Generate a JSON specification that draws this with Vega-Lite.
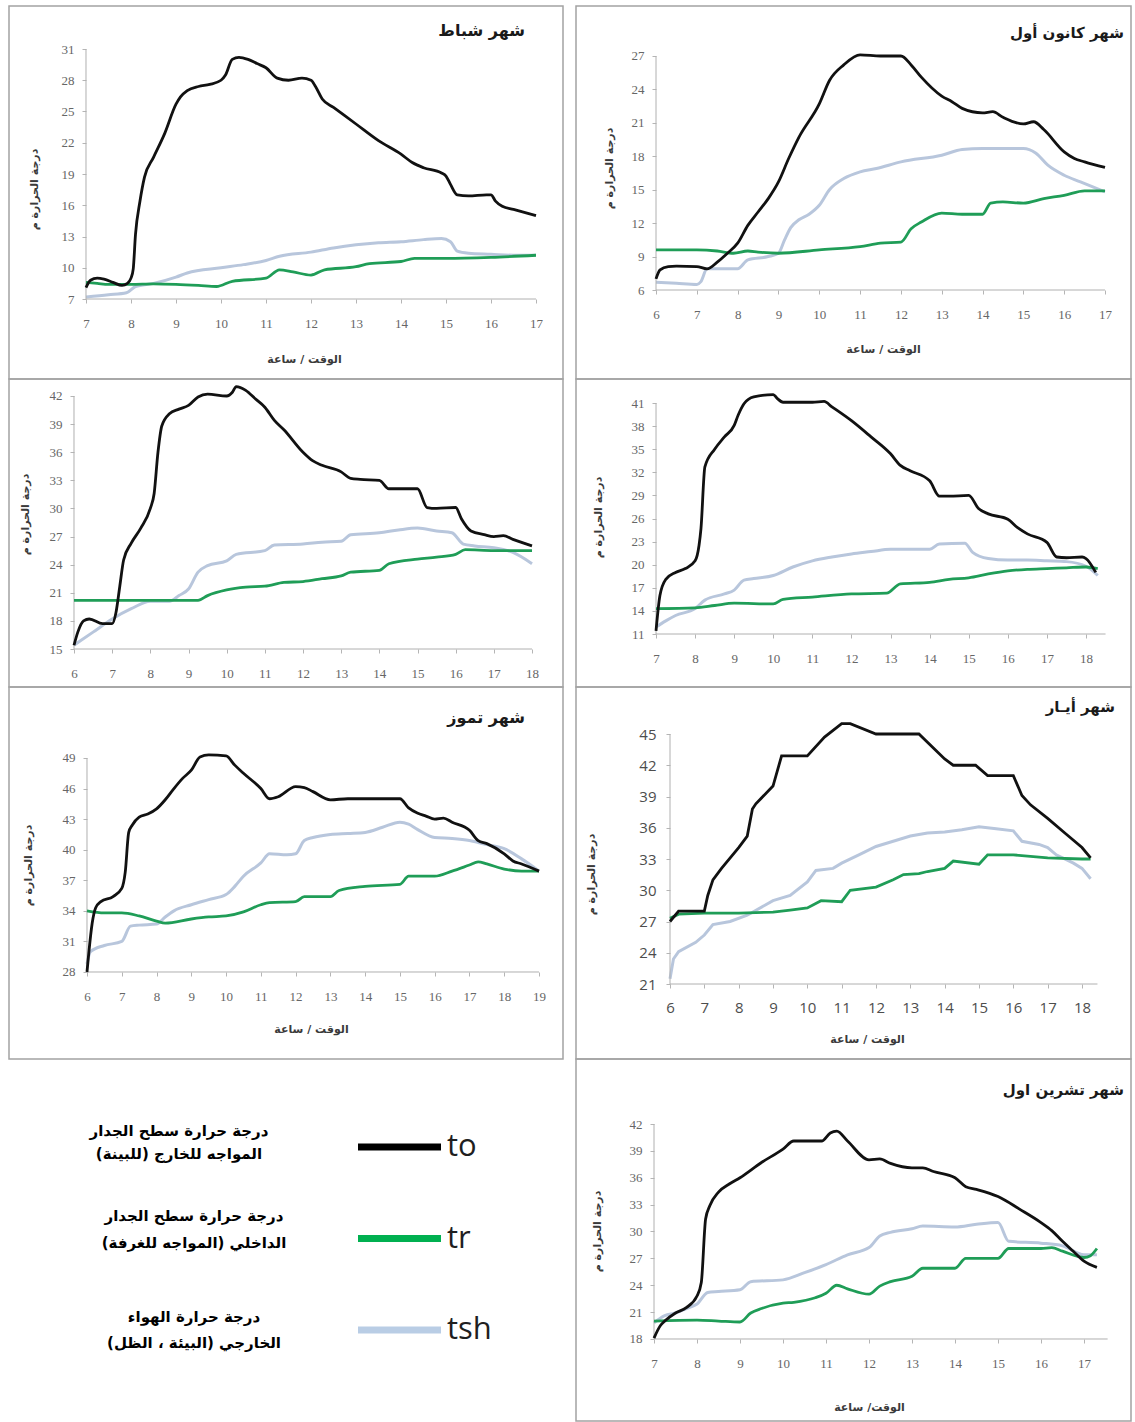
{
"$schema": "https://vega.github.io/schema/vega-lite/v6.json",
"padding": {"left": 8, "top": 5, "right": 0, "bottom": 0},
"background": "white",
"config": {
  "view": {"stroke": "#a3a3a3", "strokeWidth": 1.5},
  "axis": {"grid": false, "domain": false, "labelFont": "Liberation Serif", "labelFontSize": 13, "labelColor": "#666666", "tickColor": "#b5b5b5", "tickSize": 4, "labelFlush": false, "labelOverlap": false, "titleFont": "DejaVu Sans", "titleFontSize": 11, "titleFontWeight": "bold", "titleColor": "#3a3a3a", "titleBaseline": "middle", "titleAlign": "center"},
  "axisX": {"labelPadding": 14},
  "axisY": {"labelPadding": 8},
  "title": {"anchor": "end", "frame": "group", "offset": 0, "baseline": "middle", "font": "DejaVu Sans", "fontSize": 16, "fontWeight": "bold", "color": "#1a1a1a"}
},
"datasets": {
  "feb_to": [{"t":7,"v":8.1},{"t":7.1,"v":8.8},{"t":7.25,"v":9.0},{"t":7.4,"v":8.9},{"t":7.6,"v":8.6},{"t":7.8,"v":8.3},{"t":7.92,"v":8.5},{"t":8.0,"v":9.0},{"t":8.05,"v":9.9},{"t":8.1,"v":13.2},{"t":8.2,"v":16.4},{"t":8.3,"v":18.7},{"t":8.5,"v":20.6},{"t":8.75,"v":22.9},{"t":9.0,"v":25.7},{"t":9.1,"v":26.4},{"t":9.25,"v":27.0},{"t":9.5,"v":27.4},{"t":9.75,"v":27.6},{"t":10.0,"v":28.0},{"t":10.1,"v":28.5},{"t":10.25,"v":30.0},{"t":10.4,"v":30.2},{"t":10.6,"v":30.0},{"t":10.8,"v":29.6},{"t":11.0,"v":29.2},{"t":11.25,"v":28.2},{"t":11.5,"v":28.0},{"t":11.8,"v":28.2},{"t":12.0,"v":28.0},{"t":12.1,"v":27.4},{"t":12.25,"v":26.2},{"t":12.5,"v":25.4},{"t":13.0,"v":23.8},{"t":13.5,"v":22.2},{"t":14.0,"v":20.9},{"t":14.25,"v":20.1},{"t":14.5,"v":19.6},{"t":14.9,"v":19.1},{"t":15.0,"v":18.8},{"t":15.1,"v":18.0},{"t":15.25,"v":17.0},{"t":15.5,"v":16.9},{"t":15.9,"v":17.0},{"t":16.0,"v":17.0},{"t":16.1,"v":16.4},{"t":16.25,"v":15.9},{"t":16.5,"v":15.6},{"t":17.0,"v":15.0}],
  "feb_tr": [{"t":7,"v":8.6},{"t":7.25,"v":8.5},{"t":7.5,"v":8.4},{"t":8,"v":8.4},{"t":8.5,"v":8.45},{"t":9,"v":8.4},{"t":9.5,"v":8.3},{"t":9.9,"v":8.2},{"t":10.25,"v":8.7},{"t":11,"v":9.0},{"t":11.3,"v":9.8},{"t":11.6,"v":9.6},{"t":12,"v":9.3},{"t":12.3,"v":9.8},{"t":13,"v":10.1},{"t":13.3,"v":10.4},{"t":14,"v":10.6},{"t":14.3,"v":10.9},{"t":15,"v":10.9},{"t":16,"v":11.0},{"t":17,"v":11.2}],
  "feb_tsh": [{"t":7,"v":7.2},{"t":7.5,"v":7.4},{"t":7.9,"v":7.6},{"t":8.1,"v":8.2},{"t":8.5,"v":8.5},{"t":9,"v":9.1},{"t":9.25,"v":9.5},{"t":10,"v":10.0},{"t":10.5,"v":10.3},{"t":11,"v":10.7},{"t":11.3,"v":11.1},{"t":12,"v":11.5},{"t":12.5,"v":11.9},{"t":13,"v":12.2},{"t":13.5,"v":12.4},{"t":14,"v":12.5},{"t":14.5,"v":12.7},{"t":14.9,"v":12.8},{"t":15.1,"v":12.5},{"t":15.25,"v":11.6},{"t":15.5,"v":11.4},{"t":16,"v":11.3},{"t":16.5,"v":11.2},{"t":17,"v":11.2}],
  "dec_to": [{"t":6,"v":7.0},{"t":6.1,"v":7.8},{"t":6.3,"v":8.1},{"t":6.5,"v":8.15},{"t":7,"v":8.1},{"t":7.25,"v":7.9},{"t":7.5,"v":8.5},{"t":7.75,"v":9.3},{"t":8,"v":10.2},{"t":8.25,"v":11.8},{"t":8.5,"v":13.0},{"t":8.75,"v":14.2},{"t":9,"v":15.7},{"t":9.25,"v":17.8},{"t":9.5,"v":19.7},{"t":10,"v":22.7},{"t":10.25,"v":24.8},{"t":10.6,"v":26.2},{"t":11,"v":27.1},{"t":11.5,"v":27.0},{"t":12,"v":27.0},{"t":12.25,"v":26.2},{"t":12.5,"v":25.1},{"t":13,"v":23.4},{"t":13.25,"v":22.9},{"t":13.5,"v":22.3},{"t":14,"v":21.9},{"t":14.25,"v":22.0},{"t":14.5,"v":21.5},{"t":15,"v":20.9},{"t":15.25,"v":21.1},{"t":15.5,"v":20.4},{"t":16,"v":18.4},{"t":16.25,"v":17.8},{"t":16.5,"v":17.5},{"t":17,"v":17.0}],
  "dec_tr": [{"t":6,"v":9.6},{"t":7,"v":9.6},{"t":7.5,"v":9.5},{"t":7.9,"v":9.3},{"t":8.25,"v":9.5},{"t":8.5,"v":9.4},{"t":9,"v":9.3},{"t":10,"v":9.6},{"t":11,"v":9.9},{"t":11.5,"v":10.2},{"t":12,"v":10.3},{"t":12.25,"v":11.5},{"t":12.5,"v":12.1},{"t":13,"v":12.9},{"t":13.5,"v":12.8},{"t":14,"v":12.8},{"t":14.2,"v":13.8},{"t":14.5,"v":13.9},{"t":15,"v":13.8},{"t":15.5,"v":14.2},{"t":16,"v":14.5},{"t":16.5,"v":14.9},{"t":17,"v":14.9}],
  "dec_tsh": [{"t":6,"v":6.7},{"t":6.5,"v":6.6},{"t":7,"v":6.5},{"t":7.1,"v":6.75},{"t":7.25,"v":7.9},{"t":7.5,"v":7.9},{"t":8,"v":7.9},{"t":8.25,"v":8.7},{"t":8.75,"v":9.0},{"t":9,"v":9.3},{"t":9.15,"v":10.5},{"t":9.3,"v":11.6},{"t":9.5,"v":12.3},{"t":9.75,"v":12.8},{"t":10,"v":13.6},{"t":10.25,"v":15.0},{"t":10.6,"v":16.0},{"t":11,"v":16.6},{"t":11.4,"v":16.9},{"t":12,"v":17.5},{"t":13,"v":18.1},{"t":13.5,"v":18.6},{"t":14,"v":18.7},{"t":15,"v":18.7},{"t":15.3,"v":18.3},{"t":15.6,"v":17.2},{"t":16,"v":16.3},{"t":16.4,"v":15.7},{"t":17,"v":14.8}],
  "m3_to": [{"t":6,"v":15.4},{"t":6.1,"v":16.8},{"t":6.25,"v":18.0},{"t":6.4,"v":18.2},{"t":6.75,"v":17.7},{"t":7,"v":17.7},{"t":7.1,"v":18.9},{"t":7.2,"v":21.7},{"t":7.3,"v":24.5},{"t":7.5,"v":26.3},{"t":7.75,"v":27.9},{"t":8,"v":30.0},{"t":8.1,"v":31.6},{"t":8.2,"v":36.0},{"t":8.3,"v":38.8},{"t":8.5,"v":40.1},{"t":8.75,"v":40.6},{"t":9,"v":41.0},{"t":9.25,"v":41.9},{"t":9.5,"v":42.2},{"t":10,"v":42.0},{"t":10.15,"v":42.4},{"t":10.25,"v":43.0},{"t":10.5,"v":42.6},{"t":10.75,"v":41.7},{"t":11,"v":40.8},{"t":11.25,"v":39.4},{"t":11.5,"v":38.4},{"t":12,"v":36.0},{"t":12.25,"v":35.1},{"t":12.5,"v":34.6},{"t":13,"v":33.9},{"t":13.25,"v":33.2},{"t":13.5,"v":33.1},{"t":14,"v":33.0},{"t":14.25,"v":32.1},{"t":14.5,"v":32.1},{"t":15,"v":32.1},{"t":15.25,"v":30.1},{"t":15.5,"v":30.0},{"t":16,"v":30.1},{"t":16.15,"v":28.9},{"t":16.4,"v":27.6},{"t":16.75,"v":27.2},{"t":17,"v":27.0},{"t":17.25,"v":27.1},{"t":17.5,"v":26.7},{"t":18,"v":26.0}],
  "m3_tr": [{"t":6,"v":20.2},{"t":7,"v":20.2},{"t":8,"v":20.2},{"t":9,"v":20.2},{"t":9.25,"v":20.2},{"t":9.5,"v":20.7},{"t":10,"v":21.3},{"t":10.5,"v":21.6},{"t":11,"v":21.7},{"t":11.5,"v":22.1},{"t":12,"v":22.2},{"t":12.5,"v":22.5},{"t":13,"v":22.8},{"t":13.25,"v":23.2},{"t":14,"v":23.4},{"t":14.25,"v":24.1},{"t":15,"v":24.6},{"t":15.5,"v":24.8},{"t":16,"v":25.1},{"t":16.25,"v":25.6},{"t":17,"v":25.5},{"t":18,"v":25.5}],
  "m3_tsh": [{"t":6,"v":15.4},{"t":6.5,"v":16.8},{"t":7,"v":18.2},{"t":7.5,"v":19.3},{"t":8,"v":20.1},{"t":8.5,"v":20.1},{"t":8.75,"v":20.7},{"t":9,"v":21.4},{"t":9.25,"v":23.2},{"t":9.5,"v":23.9},{"t":10,"v":24.4},{"t":10.25,"v":25.1},{"t":11,"v":25.5},{"t":11.25,"v":26.1},{"t":12,"v":26.2},{"t":12.5,"v":26.4},{"t":13,"v":26.5},{"t":13.25,"v":27.2},{"t":14,"v":27.4},{"t":14.5,"v":27.7},{"t":15,"v":27.9},{"t":15.5,"v":27.6},{"t":15.9,"v":27.4},{"t":16.2,"v":26.2},{"t":16.5,"v":26.0},{"t":17,"v":25.8},{"t":17.5,"v":25.3},{"t":18,"v":24.1}],
  "m4_to": [{"t":7,"v":11.4},{"t":7.1,"v":16.0},{"t":7.25,"v":18.1},{"t":7.5,"v":19.0},{"t":7.75,"v":19.5},{"t":8,"v":20.5},{"t":8.1,"v":22.5},{"t":8.15,"v":24.7},{"t":8.25,"v":32.7},{"t":8.5,"v":35.0},{"t":8.75,"v":36.6},{"t":9,"v":38.1},{"t":9.1,"v":39.4},{"t":9.25,"v":40.9},{"t":9.5,"v":41.8},{"t":10,"v":42.1},{"t":10.1,"v":41.6},{"t":10.25,"v":41.1},{"t":11,"v":41.1},{"t":11.3,"v":41.2},{"t":11.5,"v":40.5},{"t":12,"v":38.7},{"t":12.5,"v":36.6},{"t":13,"v":34.4},{"t":13.25,"v":32.9},{"t":13.5,"v":32.2},{"t":14,"v":30.9},{"t":14.25,"v":28.9},{"t":14.5,"v":28.9},{"t":15,"v":29.0},{"t":15.25,"v":27.3},{"t":15.5,"v":26.6},{"t":16,"v":25.9},{"t":16.25,"v":24.8},{"t":16.5,"v":24.0},{"t":17,"v":22.9},{"t":17.25,"v":21.0},{"t":17.5,"v":20.9},{"t":17.9,"v":21.0},{"t":18,"v":20.8},{"t":18.25,"v":19.0}],
  "m4_tr": [{"t":7,"v":14.3},{"t":8,"v":14.4},{"t":8.5,"v":14.7},{"t":9,"v":15.0},{"t":10,"v":14.9},{"t":10.25,"v":15.5},{"t":11,"v":15.8},{"t":12,"v":16.2},{"t":12.9,"v":16.3},{"t":13.25,"v":17.5},{"t":14,"v":17.7},{"t":14.5,"v":18.1},{"t":15,"v":18.3},{"t":15.5,"v":18.8},{"t":16,"v":19.2},{"t":16.5,"v":19.4},{"t":17,"v":19.5},{"t":17.5,"v":19.6},{"t":18,"v":19.7},{"t":18.3,"v":19.5}],
  "m4_tsh": [{"t":7,"v":11.9},{"t":7.25,"v":12.7},{"t":7.5,"v":13.4},{"t":8,"v":14.3},{"t":8.25,"v":15.4},{"t":8.75,"v":16.2},{"t":9,"v":16.7},{"t":9.25,"v":18.0},{"t":9.5,"v":18.2},{"t":10,"v":18.6},{"t":10.5,"v":19.7},{"t":11,"v":20.5},{"t":11.5,"v":21.0},{"t":12,"v":21.4},{"t":12.5,"v":21.7},{"t":13,"v":22.0},{"t":13.5,"v":22.0},{"t":14,"v":22.0},{"t":14.25,"v":22.7},{"t":14.9,"v":22.8},{"t":15.1,"v":21.6},{"t":15.5,"v":20.8},{"t":16,"v":20.6},{"t":16.5,"v":20.6},{"t":17,"v":20.5},{"t":17.5,"v":20.4},{"t":18,"v":19.8},{"t":18.3,"v":18.6}],
  "jul_to": [{"t":6,"v":28.0},{"t":6.05,"v":29.8},{"t":6.15,"v":32.8},{"t":6.25,"v":34.3},{"t":6.4,"v":34.9},{"t":6.75,"v":35.4},{"t":7,"v":36.2},{"t":7.1,"v":37.8},{"t":7.2,"v":41.7},{"t":7.3,"v":42.4},{"t":7.5,"v":43.2},{"t":7.75,"v":43.5},{"t":8,"v":44.0},{"t":8.25,"v":44.9},{"t":8.5,"v":46.0},{"t":8.75,"v":47.0},{"t":9,"v":47.8},{"t":9.25,"v":49.1},{"t":9.5,"v":49.3},{"t":10,"v":49.2},{"t":10.25,"v":48.3},{"t":10.5,"v":47.5},{"t":11,"v":46.0},{"t":11.25,"v":45.0},{"t":11.5,"v":45.2},{"t":12,"v":46.2},{"t":12.25,"v":46.1},{"t":12.5,"v":45.7},{"t":13,"v":44.9},{"t":13.5,"v":45.0},{"t":14,"v":45.0},{"t":14.5,"v":45.0},{"t":15,"v":45.0},{"t":15.25,"v":44.1},{"t":15.5,"v":43.6},{"t":15.75,"v":43.3},{"t":16,"v":43.0},{"t":16.25,"v":43.1},{"t":16.5,"v":42.7},{"t":17,"v":41.9},{"t":17.25,"v":40.9},{"t":17.5,"v":40.6},{"t":18,"v":39.6},{"t":18.25,"v":38.9},{"t":18.5,"v":38.6},{"t":19,"v":37.9}],
  "jul_tr": [{"t":6,"v":34.0},{"t":6.5,"v":33.8},{"t":7,"v":33.8},{"t":7.5,"v":33.5},{"t":8,"v":33.0},{"t":8.25,"v":32.8},{"t":9,"v":33.2},{"t":9.5,"v":33.4},{"t":10,"v":33.5},{"t":10.5,"v":33.9},{"t":11,"v":34.6},{"t":11.25,"v":34.8},{"t":12,"v":34.9},{"t":12.25,"v":35.4},{"t":13,"v":35.4},{"t":13.25,"v":36.0},{"t":14,"v":36.4},{"t":15,"v":36.6},{"t":15.25,"v":37.4},{"t":16,"v":37.4},{"t":16.5,"v":37.9},{"t":17,"v":38.5},{"t":17.25,"v":38.8},{"t":17.5,"v":38.6},{"t":18,"v":38.1},{"t":18.5,"v":37.9},{"t":19,"v":37.9}],
  "jul_tsh": [{"t":6,"v":28.8},{"t":6.1,"v":30.0},{"t":6.5,"v":30.6},{"t":7,"v":31.0},{"t":7.25,"v":32.5},{"t":7.5,"v":32.6},{"t":8,"v":32.7},{"t":8.25,"v":33.4},{"t":8.5,"v":34.0},{"t":9,"v":34.6},{"t":9.5,"v":35.1},{"t":10,"v":35.6},{"t":10.25,"v":36.4},{"t":10.5,"v":37.4},{"t":11,"v":38.7},{"t":11.25,"v":39.6},{"t":11.75,"v":39.5},{"t":12,"v":39.6},{"t":12.25,"v":40.9},{"t":12.5,"v":41.2},{"t":13,"v":41.5},{"t":13.5,"v":41.6},{"t":14,"v":41.7},{"t":14.5,"v":42.2},{"t":15,"v":42.7},{"t":15.25,"v":42.5},{"t":15.5,"v":42.0},{"t":16,"v":41.2},{"t":16.5,"v":41.1},{"t":17,"v":40.9},{"t":17.5,"v":40.5},{"t":18,"v":40.1},{"t":18.5,"v":39.1},{"t":19,"v":37.9}],
  "may_to": [{"t":6,"v":27.0},{"t":6.25,"v":28.0},{"t":7,"v":28.0},{"t":7.1,"v":29.5},{"t":7.25,"v":31.0},{"t":7.5,"v":32.1},{"t":8,"v":34.1},{"t":8.25,"v":35.2},{"t":8.4,"v":37.8},{"t":8.5,"v":38.3},{"t":9,"v":40.0},{"t":9.25,"v":42.9},{"t":10,"v":42.9},{"t":10.5,"v":44.7},{"t":11,"v":46.0},{"t":11.25,"v":46.0},{"t":12,"v":45.0},{"t":13,"v":45.0},{"t":13.25,"v":45.0},{"t":14,"v":42.6},{"t":14.25,"v":42.0},{"t":14.9,"v":42.0},{"t":15.25,"v":41.0},{"t":16,"v":41.0},{"t":16.25,"v":39.1},{"t":16.5,"v":38.2},{"t":17,"v":36.9},{"t":17.5,"v":35.5},{"t":18,"v":34.1},{"t":18.25,"v":33.1}],
  "may_tr": [{"t":6,"v":27.3},{"t":6.25,"v":27.7},{"t":7,"v":27.8},{"t":8,"v":27.8},{"t":9,"v":27.9},{"t":9.5,"v":28.1},{"t":10,"v":28.3},{"t":10.4,"v":29.0},{"t":11,"v":28.9},{"t":11.25,"v":30.0},{"t":12,"v":30.3},{"t":12.5,"v":31.0},{"t":12.8,"v":31.5},{"t":13.25,"v":31.6},{"t":13.5,"v":31.8},{"t":14,"v":32.1},{"t":14.25,"v":32.8},{"t":15,"v":32.5},{"t":15.25,"v":33.4},{"t":16,"v":33.4},{"t":17,"v":33.1},{"t":18,"v":33.0},{"t":18.25,"v":33.0}],
  "may_tsh": [{"t":6,"v":21.5},{"t":6.1,"v":23.4},{"t":6.25,"v":24.1},{"t":6.75,"v":25.0},{"t":7,"v":25.7},{"t":7.25,"v":26.7},{"t":7.75,"v":27.0},{"t":8.25,"v":27.6},{"t":9,"v":29.0},{"t":9.5,"v":29.5},{"t":10,"v":30.8},{"t":10.25,"v":31.9},{"t":10.75,"v":32.1},{"t":11,"v":32.6},{"t":11.5,"v":33.4},{"t":12,"v":34.2},{"t":12.5,"v":34.7},{"t":13,"v":35.2},{"t":13.5,"v":35.5},{"t":14,"v":35.6},{"t":14.5,"v":35.8},{"t":15,"v":36.1},{"t":15.5,"v":35.9},{"t":16,"v":35.7},{"t":16.25,"v":34.7},{"t":16.75,"v":34.4},{"t":17,"v":34.1},{"t":17.25,"v":33.4},{"t":17.75,"v":32.6},{"t":18,"v":32.1},{"t":18.25,"v":31.1}],
  "oct_to": [{"t":7,"v":18.1},{"t":7.15,"v":19.5},{"t":7.25,"v":20.0},{"t":7.5,"v":20.9},{"t":7.75,"v":21.5},{"t":8,"v":22.8},{"t":8.1,"v":24.3},{"t":8.2,"v":31.4},{"t":8.3,"v":32.9},{"t":8.5,"v":34.4},{"t":8.75,"v":35.3},{"t":9,"v":36.0},{"t":9.5,"v":37.7},{"t":10,"v":39.2},{"t":10.25,"v":40.1},{"t":10.9,"v":40.1},{"t":11.1,"v":41.0},{"t":11.25,"v":41.2},{"t":11.5,"v":40.1},{"t":12,"v":38.0},{"t":12.25,"v":38.1},{"t":12.5,"v":37.6},{"t":13,"v":37.1},{"t":13.25,"v":37.1},{"t":13.5,"v":36.7},{"t":14,"v":36.0},{"t":14.25,"v":35.0},{"t":14.5,"v":34.7},{"t":15,"v":33.9},{"t":15.5,"v":32.5},{"t":16,"v":31.0},{"t":16.25,"v":30.1},{"t":16.5,"v":28.9},{"t":16.75,"v":27.8},{"t":17,"v":26.7},{"t":17.3,"v":26.0}],
  "oct_tr": [{"t":7,"v":20.0},{"t":8,"v":20.1},{"t":8.5,"v":20.0},{"t":9,"v":19.9},{"t":9.25,"v":20.9},{"t":9.5,"v":21.4},{"t":10,"v":22.0},{"t":10.25,"v":22.1},{"t":10.75,"v":22.6},{"t":11,"v":23.1},{"t":11.25,"v":24.0},{"t":11.5,"v":23.6},{"t":12,"v":23.0},{"t":12.25,"v":23.9},{"t":12.5,"v":24.4},{"t":13,"v":25.0},{"t":13.25,"v":25.9},{"t":14,"v":25.9},{"t":14.25,"v":27.0},{"t":15,"v":27.0},{"t":15.25,"v":28.1},{"t":16,"v":28.1},{"t":16.25,"v":28.2},{"t":16.5,"v":27.8},{"t":17,"v":27.1},{"t":17.15,"v":27.3},{"t":17.3,"v":28.1}],
  "oct_tsh": [{"t":7,"v":19.8},{"t":7.25,"v":20.6},{"t":7.5,"v":20.9},{"t":7.75,"v":21.4},{"t":8,"v":21.9},{"t":8.25,"v":23.2},{"t":8.5,"v":23.3},{"t":9,"v":23.5},{"t":9.25,"v":24.4},{"t":10,"v":24.6},{"t":10.5,"v":25.4},{"t":11,"v":26.3},{"t":11.5,"v":27.4},{"t":12,"v":28.2},{"t":12.25,"v":29.5},{"t":12.5,"v":29.9},{"t":13,"v":30.3},{"t":13.25,"v":30.6},{"t":14,"v":30.5},{"t":14.5,"v":30.8},{"t":15,"v":31.0},{"t":15.25,"v":28.9},{"t":16,"v":28.7},{"t":16.5,"v":28.4},{"t":17,"v":27.4},{"t":17.3,"v":27.4}],
  "legend": [
    {"s": "to", "lines": ["درجة حرارة سطح الجدار", "المواجه للخارج  (للبينة)"]},
    {"s": "tr", "lines": ["درجة حرارة سطح الجدار", "الداخلي (المواجه للغرفة)"]},
    {"s": "tsh", "lines": ["درجة حرارة الهواء", "الخارجي (البيئة ، الظل)"]}
  ]
},
"concat": [
  {
    "width": 554, "height": 373,
    "title": {"text": "شهر شباط", "dx": -38, "dy": 37},
    "layer": [
      {"data": {"name": "feb_tsh"}, "mark": {"type": "line", "color": "#b8c6dc", "strokeWidth": 3, "interpolate": "monotone"},
       "encoding": {
         "x": {"field": "t", "type": "quantitative", "scale": {"domain": [5.289, 17.6], "nice": false, "zero": false}, "axis": {"values": [7,8,9,10,11,12,13,14,15,16,17], "format": "d", "tickCount": 40, "labelOverlap": false, "offset": -80, "title": "الوقت / ساعة", "titleX": 295, "titleY": 60}},
         "y": {"field": "v", "type": "quantitative", "scale": {"domain": [-0.68, 35.128], "nice": false, "zero": false}, "axis": {"values": [7,10,13,16,19,22,25,28,31], "format": "d", "tickCount": 40, "labelOverlap": false, "offset": -77, "title": "درجة الحرارة م", "titleX": -52, "titleY": 183}}}},
      {"data": {"values": [{}]}, "mark": {"type": "rule", "color": "#b0b0b0"}, "encoding": {"x": {"datum": 7}, "y": {"datum": 7}, "y2": {"datum": 31}}},
      {"data": {"values": [{}]}, "mark": {"type": "rule", "color": "#b0b0b0"}, "encoding": {"x": {"datum": 7}, "x2": {"datum": 17}, "y": {"datum": 7}}},
      {"data": {"name": "feb_tr"}, "mark": {"type": "line", "color": "#1f9d57", "strokeWidth": 2.8, "interpolate": "monotone"}, "encoding": {"x": {"field": "t", "type": "quantitative"}, "y": {"field": "v", "type": "quantitative"}}},
      {"data": {"name": "feb_to"}, "mark": {"type": "line", "color": "#111111", "strokeWidth": 2.8, "interpolate": "monotone"}, "encoding": {"x": {"field": "t", "type": "quantitative"}, "y": {"field": "v", "type": "quantitative"}}}
    ]
  },
  {
    "width": 555, "height": 373,
    "title": {"text": "شهر كانون أول", "dx": -7, "dy": 39, "fontSize": 15},
    "layer": [
      {"data": {"name": "dec_tsh"}, "mark": {"type": "line", "color": "#b8c6dc", "strokeWidth": 3, "interpolate": "monotone"},
       "encoding": {
         "x": {"field": "t", "type": "quantitative", "scale": {"domain": [4.04, 17.637], "nice": false, "zero": false}, "axis": {"values": [6,7,8,9,10,11,12,13,14,15,16,17], "format": "d", "tickCount": 40, "labelOverlap": false, "offset": -89, "title": "الوقت / ساعة", "titleX": 307, "titleY": 59}},
         "y": {"field": "v", "type": "quantitative", "scale": {"domain": [-1.987, 31.487], "nice": false, "zero": false}, "axis": {"values": [6,9,12,15,18,21,24,27], "format": "d", "tickCount": 40, "labelOverlap": false, "offset": -80, "title": "درجة الحرارة م", "titleX": -47, "titleY": 162}}}},
      {"data": {"values": [{}]}, "mark": {"type": "rule", "color": "#b0b0b0"}, "encoding": {"x": {"datum": 6}, "y": {"datum": 6}, "y2": {"datum": 27}}},
      {"data": {"values": [{}]}, "mark": {"type": "rule", "color": "#b0b0b0"}, "encoding": {"x": {"datum": 6}, "x2": {"datum": 17}, "y": {"datum": 6}}},
      {"data": {"name": "dec_tr"}, "mark": {"type": "line", "color": "#1f9d57", "strokeWidth": 2.8, "interpolate": "monotone"}, "encoding": {"x": {"field": "t", "type": "quantitative"}, "y": {"field": "v", "type": "quantitative"}}},
      {"data": {"name": "dec_to"}, "mark": {"type": "line", "color": "#111111", "strokeWidth": 2.8, "interpolate": "monotone"}, "encoding": {"x": {"field": "t", "type": "quantitative"}, "y": {"field": "v", "type": "quantitative"}}}
    ]
  },
  {
    "width": 554, "height": 308,
    "layer": [
      {"data": {"name": "m3_tsh"}, "mark": {"type": "line", "color": "#b8c6dc", "strokeWidth": 3, "interpolate": "monotone"},
       "encoding": {
         "x": {"field": "t", "type": "quantitative", "scale": {"domain": [4.297, 18.812], "nice": false, "zero": false}, "axis": {"values": [6,7,8,9,10,11,12,13,14,15,16,17,18], "format": "d", "tickCount": 40, "labelOverlap": false, "offset": -38, "title": null}},
         "y": {"field": "v", "type": "quantitative", "scale": {"domain": [10.945, 43.814], "nice": false, "zero": false}, "axis": {"values": [15,18,21,24,27,30,33,36,39,42], "format": "d", "tickCount": 40, "labelOverlap": false, "offset": -65, "title": "درجة الحرارة م", "titleX": -49, "titleY": 135}}}},
      {"data": {"values": [{}]}, "mark": {"type": "rule", "color": "#b0b0b0"}, "encoding": {"x": {"datum": 6}, "y": {"datum": 15}, "y2": {"datum": 42}}},
      {"data": {"values": [{}]}, "mark": {"type": "rule", "color": "#b0b0b0"}, "encoding": {"x": {"datum": 6}, "x2": {"datum": 18}, "y": {"datum": 15}}},
      {"data": {"name": "m3_tr"}, "mark": {"type": "line", "color": "#1f9d57", "strokeWidth": 2.8, "interpolate": "monotone"}, "encoding": {"x": {"field": "t", "type": "quantitative"}, "y": {"field": "v", "type": "quantitative"}}},
      {"data": {"name": "m3_to"}, "mark": {"type": "line", "color": "#111111", "strokeWidth": 2.8, "interpolate": "monotone"}, "encoding": {"x": {"field": "t", "type": "quantitative"}, "y": {"field": "v", "type": "quantitative"}}}
    ]
  },
  {
    "width": 555, "height": 308,
    "layer": [
      {"data": {"name": "m4_tsh"}, "mark": {"type": "line", "color": "#b8c6dc", "strokeWidth": 3, "interpolate": "monotone"},
       "encoding": {
         "x": {"field": "t", "type": "quantitative", "scale": {"domain": [4.953, 19.151], "nice": false, "zero": false}, "axis": {"values": [7,8,9,10,11,12,13,14,15,16,17,18], "format": "d", "tickCount": 40, "labelOverlap": false, "offset": -53, "title": null}},
         "y": {"field": "v", "type": "quantitative", "scale": {"domain": [4.117, 44.117], "nice": false, "zero": false}, "axis": {"values": [11,14,17,20,23,26,29,32,35,38,41], "format": "d", "tickCount": 40, "labelOverlap": false, "offset": -80, "title": "درجة الحرارة م", "titleX": -58, "titleY": 138}}}},
      {"data": {"values": [{}]}, "mark": {"type": "rule", "color": "#b0b0b0"}, "encoding": {"x": {"datum": 7}, "y": {"datum": 11}, "y2": {"datum": 41}}},
      {"data": {"values": [{}]}, "mark": {"type": "rule", "color": "#b0b0b0"}, "encoding": {"x": {"datum": 7}, "x2": {"datum": 18.5}, "y": {"datum": 11}}},
      {"data": {"name": "m4_tr"}, "mark": {"type": "line", "color": "#1f9d57", "strokeWidth": 2.8, "interpolate": "monotone"}, "encoding": {"x": {"field": "t", "type": "quantitative"}, "y": {"field": "v", "type": "quantitative"}}},
      {"data": {"name": "m4_to"}, "mark": {"type": "line", "color": "#111111", "strokeWidth": 2.8, "interpolate": "monotone"}, "encoding": {"x": {"field": "t", "type": "quantitative"}, "y": {"field": "v", "type": "quantitative"}}}
    ]
  },
  {
    "width": 554, "height": 372,
    "title": {"text": "شهر تموز", "dx": -38, "dy": 43},
    "layer": [
      {"data": {"name": "jul_tsh"}, "mark": {"type": "line", "color": "#b8c6dc", "strokeWidth": 3, "interpolate": "monotone"},
       "encoding": {
         "x": {"field": "t", "type": "quantitative", "scale": {"domain": [3.757, 19.69], "nice": false, "zero": false}, "axis": {"values": [6,7,8,9,10,11,12,13,14,15,16,17,18,19], "format": "d", "tickCount": 40, "labelOverlap": false, "offset": -87, "title": "الوقت / ساعة", "titleX": 302, "titleY": 57}},
         "y": {"field": "v", "type": "quantitative", "scale": {"domain": [19.462, 55.967], "nice": false, "zero": false}, "axis": {"values": [28,31,34,37,40,43,46,49], "format": "d", "tickCount": 40, "labelOverlap": false, "offset": -78, "title": "درجة الحرارة م", "titleX": -59, "titleY": 178}}}},
      {"data": {"values": [{}]}, "mark": {"type": "rule", "color": "#b0b0b0"}, "encoding": {"x": {"datum": 6}, "y": {"datum": 28}, "y2": {"datum": 49}}},
      {"data": {"values": [{}]}, "mark": {"type": "rule", "color": "#b0b0b0"}, "encoding": {"x": {"datum": 6}, "x2": {"datum": 19}, "y": {"datum": 28}}},
      {"data": {"name": "jul_tr"}, "mark": {"type": "line", "color": "#1f9d57", "strokeWidth": 2.8, "interpolate": "monotone"}, "encoding": {"x": {"field": "t", "type": "quantitative"}, "y": {"field": "v", "type": "quantitative"}}},
      {"data": {"name": "jul_to"}, "mark": {"type": "line", "color": "#111111", "strokeWidth": 2.8, "interpolate": "monotone"}, "encoding": {"x": {"field": "t", "type": "quantitative"}, "y": {"field": "v", "type": "quantitative"}}}
    ]
  },
  {
    "width": 555, "height": 372,
    "title": {"text": "شهر أيـار", "dx": -16, "dy": 32, "fontSize": 15},
    "layer": [
      {"data": {"name": "may_tsh"}, "mark": {"type": "line", "color": "#b8c6dc", "strokeWidth": 3},
       "encoding": {
         "x": {"field": "t", "type": "quantitative", "scale": {"domain": [3.262, 19.427], "nice": false, "zero": false}, "axis": {"values": [6,7,8,9,10,11,12,13,14,15,16,17,18], "format": "d", "tickCount": 40, "labelOverlap": false, "offset": -75, "title": "الوقت / ساعة", "titleX": 291, "titleY": 55, "labelFont": "Open Sans", "labelFontSize": 15, "labelColor": "#4d4d4d", "labelPadding": 12}},
         "y": {"field": "v", "type": "quantitative", "scale": {"domain": [13.8, 49.512], "nice": false, "zero": false}, "axis": {"values": [21,24,27,30,33,36,39,42,45], "format": "d", "tickCount": 40, "labelOverlap": false, "offset": -94, "title": "درجة الحرارة م", "titleX": -79, "titleY": 187, "labelFont": "Open Sans", "labelFontSize": 15, "labelColor": "#4d4d4d", "labelPadding": 10}}}},
      {"data": {"values": [{}]}, "mark": {"type": "rule", "color": "#b0b0b0"}, "encoding": {"x": {"datum": 6}, "y": {"datum": 21}, "y2": {"datum": 45}}},
      {"data": {"values": [{}]}, "mark": {"type": "rule", "color": "#b0b0b0"}, "encoding": {"x": {"datum": 6}, "x2": {"datum": 18.45}, "y": {"datum": 21}}},
      {"data": {"name": "may_tr"}, "mark": {"type": "line", "color": "#1f9d57", "strokeWidth": 2.8}, "encoding": {"x": {"field": "t", "type": "quantitative"}, "y": {"field": "v", "type": "quantitative"}}},
      {"data": {"name": "may_to"}, "mark": {"type": "line", "color": "#111111", "strokeWidth": 2.8}, "encoding": {"x": {"field": "t", "type": "quantitative"}, "y": {"field": "v", "type": "quantitative"}}}
    ]
  },
  {
    "width": 554, "height": 364,
    "view": {"stroke": null},
    "data": {"name": "legend"},
    "layer": [
      {"mark": {"type": "rule", "strokeWidth": 7, "strokeCap": "butt"},
       "encoding": {
         "x": {"datum": 349, "type": "quantitative", "scale": {"domain": [0, 554], "nice": false, "zero": false}, "axis": null},
         "x2": {"datum": 432},
         "y": {"field": "s", "type": "nominal", "scale": {"type": "point", "domain": ["to", "tr", "tsh"], "range": [88, 271], "padding": 0}, "axis": null},
         "color": {"field": "s", "type": "nominal", "scale": {"domain": ["to", "tr", "tsh"], "range": ["#000000", "#00b050", "#b9cde5"]}, "legend": null}}},
      {"mark": {"type": "text", "font": "Open Sans", "fontSize": 31, "align": "left", "baseline": "middle", "color": "#1f1f1f"},
       "encoding": {"x": {"datum": 438}, "y": {"field": "s", "type": "nominal"}, "text": {"field": "s"}}},
      {"transform": [{"filter": "datum.s === 'to'"}],
       "mark": {"type": "text", "font": "DejaVu Sans", "fontSize": 15, "fontWeight": "bold", "align": "center", "baseline": "middle", "lineHeight": 23, "dir": "rtl", "dy": -16, "color": "#000000"},
       "encoding": {"x": {"datum": 170}, "y": {"field": "s", "type": "nominal"}, "text": {"field": "lines"}}},
      {"transform": [{"filter": "datum.s === 'tr'"}],
       "mark": {"type": "text", "font": "DejaVu Sans", "fontSize": 15, "fontWeight": "bold", "align": "center", "baseline": "middle", "lineHeight": 27, "dir": "rtl", "dy": -23, "color": "#000000"},
       "encoding": {"x": {"datum": 185}, "y": {"field": "s", "type": "nominal"}, "text": {"field": "lines"}}},
      {"transform": [{"filter": "datum.s === 'tsh'"}],
       "mark": {"type": "text", "font": "DejaVu Sans", "fontSize": 15, "fontWeight": "bold", "align": "center", "baseline": "middle", "lineHeight": 26, "dir": "rtl", "dy": -13, "color": "#000000"},
       "encoding": {"x": {"datum": 185}, "y": {"field": "s", "type": "nominal"}, "text": {"field": "lines"}}}
    ]
  },
  {
    "width": 555, "height": 362,
    "title": {"text": "شهر تشرين اول", "dx": -7, "dy": 43, "fontSize": 15},
    "layer": [
      {"data": {"name": "oct_tsh"}, "mark": {"type": "line", "color": "#b8c6dc", "strokeWidth": 3, "interpolate": "monotone"},
       "encoding": {
         "x": {"field": "t", "type": "quantitative", "scale": {"domain": [5.186, 18.093], "nice": false, "zero": false}, "axis": {"values": [7,8,9,10,11,12,13,14,15,16,17], "format": "d", "tickCount": 40, "labelOverlap": false, "offset": -82, "title": "الوقت/ ساعة", "titleX": 293, "titleY": 68}},
         "y": {"field": "v", "type": "quantitative", "scale": {"domain": [8.846, 49.256], "nice": false, "zero": false}, "axis": {"values": [18,21,24,27,30,33,36,39,42], "format": "d", "tickCount": 40, "labelOverlap": false, "offset": -78, "title": "درجة الحرارة م", "titleX": -57, "titleY": 172}}}},
      {"data": {"values": [{}]}, "mark": {"type": "rule", "color": "#b0b0b0"}, "encoding": {"x": {"datum": 7}, "y": {"datum": 18}, "y2": {"datum": 42}}},
      {"data": {"values": [{}]}, "mark": {"type": "rule", "color": "#b0b0b0"}, "encoding": {"x": {"datum": 7}, "x2": {"datum": 17.55}, "y": {"datum": 18}}},
      {"data": {"name": "oct_tr"}, "mark": {"type": "line", "color": "#1f9d57", "strokeWidth": 2.8, "interpolate": "monotone"}, "encoding": {"x": {"field": "t", "type": "quantitative"}, "y": {"field": "v", "type": "quantitative"}}},
      {"data": {"name": "oct_to"}, "mark": {"type": "line", "color": "#111111", "strokeWidth": 2.8, "interpolate": "monotone"}, "encoding": {"x": {"field": "t", "type": "quantitative"}, "y": {"field": "v", "type": "quantitative"}}}
    ]
  }
],
"columns": 2,
"spacing": {"row": 0, "column": 13},
"bounds": "flush",
"align": "each"
}
